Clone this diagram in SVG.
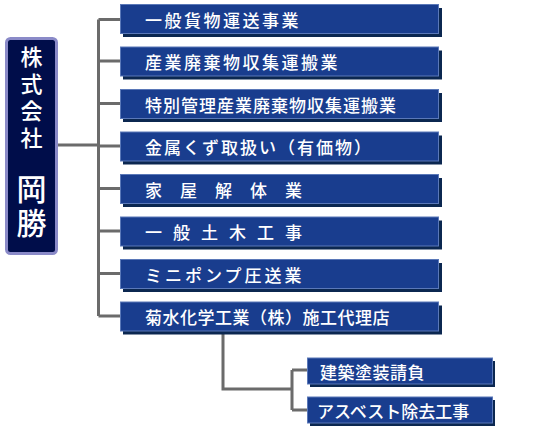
<svg xmlns="http://www.w3.org/2000/svg" width="560" height="430" viewBox="0 0 560 430">
<style>
.box{fill:#193d8e;stroke:#5a78b8;stroke-width:1}
.sh{fill:#0b2750}
.t{fill:#ffffff;font-family:"Noto Sans CJK JP","Noto Sans CJK SC",sans-serif;font-size:17px;font-weight:500;dominant-baseline:central}
.ln{stroke:#6b6b6b;stroke-width:3;fill:none}
.lt{fill:#ffffff;font-family:"Noto Sans CJK JP",sans-serif;font-weight:500;text-anchor:middle;writing-mode:vertical-rl}
</style>
<rect width="560" height="430" fill="#ffffff"/>
<g id="connectors">
<path class="ln" d="M57 145H98.5M98.5 19.5V316M98.5 19.5H121M98.5 61H121M98.5 103.5H121M98.5 146H121M98.5 188.5H121M98.5 231H121M98.5 273.5H121M98.5 316H121"/>
<path class="ln" d="M223 331V389H292M292 370V410M292 370H308M292 410H308"/>
</g>
<g id="company">
<rect x="6.5" y="38.5" width="50" height="215" rx="4" fill="#000d4a" stroke="#8a8ac8" stroke-width="3"/>
<text class="lt" x="31.5" y="100" style="font-size:22px;letter-spacing:5px">株式会社</text>
<text class="lt" x="31.5" y="208" style="font-size:30px;letter-spacing:4px">岡勝</text>
</g>
<g id="n1"><rect class="sh" x="123" y="8" width="319" height="29"/><rect class="box" x="120.5" y="4.5" width="318" height="29"/><text class="t" x="145" y="19" style="letter-spacing:2.5px">一般貨物運送事業</text></g>
<g id="n2"><rect class="sh" x="123" y="50.5" width="319" height="29"/><rect class="box" x="120.5" y="47" width="318" height="29"/><text class="t" x="145" y="61.5" style="letter-spacing:2.5px">産業廃棄物収集運搬業</text></g>
<g id="n3"><rect class="sh" x="123" y="93" width="319" height="29"/><rect class="box" x="120.5" y="89.5" width="318" height="29"/><text class="t" x="145" y="104" style="letter-spacing:1px">特別管理産業廃棄物収集運搬業</text></g>
<g id="n4"><rect class="sh" x="123" y="135.5" width="319" height="29"/><rect class="box" x="120.5" y="132" width="318" height="29"/><text class="t" x="145" y="146.5" style="letter-spacing:2px">金属くず取扱い（有価物）</text></g>
<g id="n5"><rect class="sh" x="123" y="178" width="319" height="29"/><rect class="box" x="120.5" y="174.5" width="318" height="29"/><text class="t" x="145" y="189" style="letter-spacing:18px">家屋解体業</text></g>
<g id="n6"><rect class="sh" x="123" y="220.5" width="319" height="29"/><rect class="box" x="120.5" y="217" width="318" height="29"/><text class="t" x="145" y="231.5" style="letter-spacing:11px">一般土木工事</text></g>
<g id="n7"><rect class="sh" x="123" y="263" width="319" height="29"/><rect class="box" x="120.5" y="259.5" width="318" height="29"/><text class="t" x="145" y="274" style="letter-spacing:3px">ミニポンプ圧送業</text></g>
<g id="n8"><rect class="sh" x="123" y="305.5" width="319" height="29"/><rect class="box" x="120.5" y="302" width="318" height="29"/><text class="t" x="145" y="316.5" style="letter-spacing:0.5px">菊水化学工業（株）施工代理店</text></g>
<g id="n9"><rect class="sh" x="310" y="361" width="185" height="26"/><rect class="box" x="307.5" y="358" width="185" height="26"/><text class="t" x="320" y="371" style="letter-spacing:0.5px">建築塗装請負</text></g>
<g id="n10"><rect class="sh" x="310" y="400" width="185" height="26"/><rect class="box" x="307.5" y="397" width="185" height="26"/><text class="t" x="317" y="410" style="letter-spacing:0px">アスベスト除去工事</text></g>
</svg>
